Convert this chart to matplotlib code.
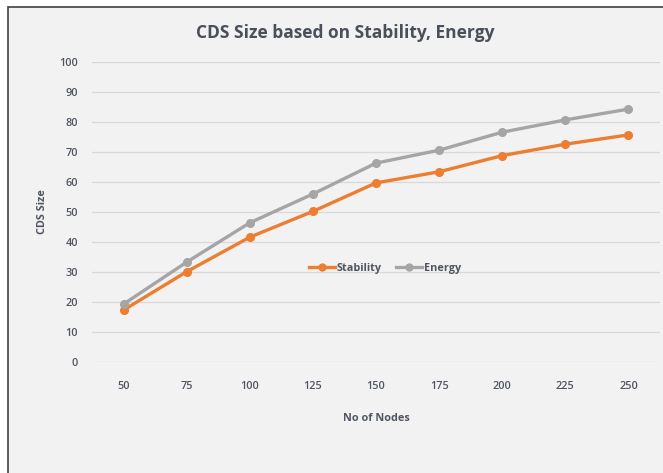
import matplotlib.pyplot as plt
from matplotlib.patches import Rectangle

nodes = ["50", "75", "100", "125", "150", "175", "200", "225", "250"]
stability = [17.3, 30.1, 41.6, 50.2, 59.7, 63.4, 68.8, 72.6, 75.7]
energy = [19.3, 33.3, 46.4, 56.0, 66.3, 70.6, 76.6, 80.7, 84.3]

plt.rcParams['font.family'] = ['Open Sans', 'DejaVu Sans']
txt = '#505560'

fig = plt.figure(figsize=(6.63, 4.73), dpi=100)
fig.patch.set_facecolor('white')
# chart area with border (cropped at right and bottom)
fig.patches.append(Rectangle((8 / 663, -0.05), 1.0, 1 - 7 / 473 + 0.05,
                             transform=fig.transFigure, facecolor='#f2f2f2',
                             edgecolor='#404040', linewidth=1.2, zorder=-10))

ax = fig.add_axes([92 / 663, 1 - 362 / 473, 568 / 663, 300 / 473])
ax.set_facecolor('none')

x = range(len(nodes))
ax.plot(x, stability, color='#ED7D31', lw=2.4, marker='o', ms=5.5, label='Stability', zorder=3)
ax.plot(x, energy, color='#A5A5A5', lw=2.4, marker='o', ms=5.5, label='Energy', zorder=3)

ax.set_xlim(-0.5, len(nodes) - 0.5)
ax.set_ylim(0, 100)
ax.set_yticks(range(0, 101, 10))
ax.set_xticks(list(x))
ax.set_xticklabels(nodes)
ax.grid(axis='y', color='#d9d9d9', lw=0.9)
ax.set_axisbelow(True)
for s in ax.spines.values():
    s.set_visible(False)
ax.tick_params(axis='x', length=0, labelsize=7.8, labelcolor=txt, pad=14)
ax.tick_params(axis='y', length=0, labelsize=7.8, labelcolor=txt, pad=10)
for lab in ax.get_xticklabels() + ax.get_yticklabels():
    lab.set_fontweight('semibold')

ax.set_xlabel('No of Nodes', fontsize=7.8, color=txt, fontweight='bold', labelpad=15)
ax.set_ylabel('CDS Size', fontsize=7.8, color=txt, fontweight='bold', labelpad=8)

fig.text(345 / 663, 1 - 33 / 473, 'CDS Size based on Stability, Energy', ha='center', va='center',
         fontsize=12.5, fontweight='bold', color='#4a4f5a')

leg = ax.legend(loc='center', bbox_to_anchor=(0.516, 0.313), ncol=2, frameon=False,
                fontsize=7.8, handlelength=2.4, handletextpad=0.15, columnspacing=1.3,
                markerscale=0.9)
for t in leg.get_texts():
    t.set_color(txt)
    t.set_fontweight('bold')

fig.savefig('out.png', dpi=100)
